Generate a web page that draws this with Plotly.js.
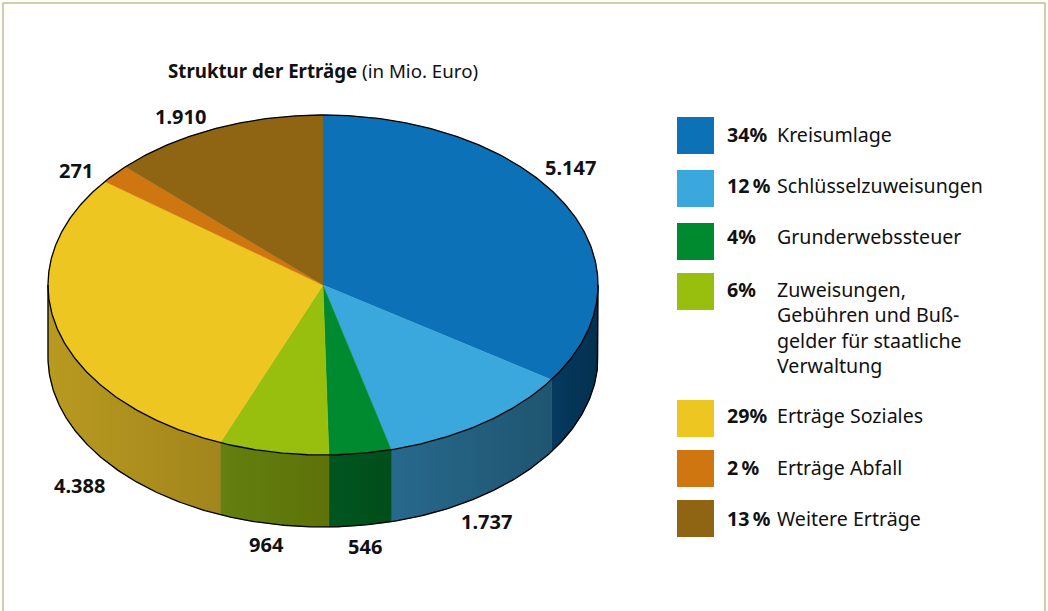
<!DOCTYPE html>
<html><head><meta charset="utf-8">
<script src="https://cdn.plot.ly/plotly-3.0.1.min.js"></script>
<style>html,body{margin:0;padding:0;background:#fff;overflow:hidden}</style>
</head><body><div id="chart" style="width:1048px;height:611px"></div>
<script>
// Data
const categories = ["Kreisumlage","Schlüsselzuweisungen","Grunderwebssteuer","Zuweisungen,<br>Gebühren und Buß-<br>gelder für staatliche<br>Verwaltung","Erträge Soziales","Erträge Abfall","Weitere Erträge"];
const values = [5147,1737,546,964,4388,271,1910];
const valueLabels = ["5.147","1.737","546","964","4.388","271","1.910"];
const percentLabels = ["34%","12\u2009%","4%","6%","29%","2\u2009%","13\u2009%"];

// Styling and layout, kept apart from the data
const topColors = ["#0c71b6","#3aa8dc","#008a30","#99bf0e","#eec622","#cf7611","#8f6513"];
const sideLeft  = ["#063a60","#27698c","#005520","#638010","#b89a20","#8f5208","#5f430b"];
const sideRight = ["#03304e","#1f5570","#004e1a","#5e7208","#a2851c","#8f5208","#5f430b"];
const labelPos = [[570,167],[486,521],[365,546],[266,544],[79,485],[76,170],[180,116]];
const swatchTop = [117,170,223,273,400,450,500];
const legendTextTop = [119,170,221,274,400,452,503];
const FONT = "Noto Sans, Open Sans, sans-serif";
const cx=323, cy=285, rx=275, ry=170, depth=72;

const total = values.reduce((a,b)=>a+b,0);
const px = th => cx + rx*Math.sin(th);
const py = (th,d=0) => cy - ry*Math.cos(th) + d;
const arc = (a,b,d=0) => {
  const n = Math.max(2,Math.ceil(Math.abs(b-a)/0.01));
  const xs=[],ys=[];
  for(let i=0;i<=n;i++){const t=a+(b-a)*i/n; xs.push(px(t)); ys.push(py(t,d));}
  return [xs,ys];
};
const traces=[], annotations=[], shapes=[];
const base={type:"scatter",mode:"lines",hoverinfo:"skip",showlegend:false};
let cum=0;
const sectors=values.map(v=>{const a=cum/total*2*Math.PI; cum+=v; return [a,cum/total*2*Math.PI];});

// side walls (front half only)
sectors.forEach(([a,b],i)=>{
  const s=Math.max(a,Math.PI/2), e=Math.min(b,3*Math.PI/2);
  if(e<=s) return;
  const [x1,y1]=arc(s,e,0), [x2,y2]=arc(e,s,depth);
  traces.push({...base,x:x1.concat(x2,[x1[0]]),y:y1.concat(y2,[y1[0]]),fill:"toself",
    line:{width:0.5,color:sideRight[i]},
    fillgradient:{type:"horizontal",colorscale:[[0,sideLeft[i]],[1,sideRight[i]]]}});
});
// top faces
sectors.forEach(([a,b],i)=>{
  const [x,y]=arc(a,b,0);
  traces.push({...base,x:[cx].concat(x,[cx]),y:[cy].concat(y,[cy]),fill:"toself",fillcolor:topColors[i],
    line:{width:0.4,color:topColors[i]}});
});
// outlines
const [ex,ey]=arc(0,2*Math.PI,0);
traces.push({...base,x:ex,y:ey,line:{width:1.3,color:"#000"}});
const [bx,by]=arc(Math.PI/2,3*Math.PI/2,depth);
traces.push({...base,x:[px(Math.PI/2)].concat(bx,[px(3*Math.PI/2)]),y:[cy].concat(by,[cy]),line:{width:1.3,color:"#000"}});

// value labels
valueLabels.forEach((t,i)=>annotations.push({xref:"x",yref:"y",x:labelPos[i][0],y:labelPos[i][1],text:"<b>"+t+"</b>",showarrow:false,
  xanchor:"center",yanchor:"middle",font:{family:FONT,size:20,color:"#111"}}));
// title
annotations.push({xref:"x",yref:"y",x:165.5,y:70,xanchor:"left",yanchor:"middle",showarrow:false,
  text:"<b>Struktur der Erträge</b> (in Mio. Euro)",font:{family:FONT,size:18.7,color:"#111"}});
// legend
categories.forEach((c,i)=>{
  shapes.push({type:"rect",xref:"x",yref:"y",x0:677,x1:714,y0:swatchTop[i],y1:swatchTop[i]+37,fillcolor:topColors[i],line:{width:0}});
  annotations.push({xref:"x",yref:"y",x:725,y:legendTextTop[i],xanchor:"left",yanchor:"top",showarrow:false,
    text:"<b>"+percentLabels[i]+"</b>",font:{family:FONT,size:19.6,color:"#111"}});
  annotations.push({xref:"x",yref:"y",x:775,y:legendTextTop[i],xanchor:"left",yanchor:"top",align:"left",showarrow:false,
    text:c,font:{family:FONT,size:19.6,color:"#111"}});
});
// frame
shapes.push({type:"path",xref:"x",yref:"y",path:"M3,611 L3,3 L1045,3 L1045,611",line:{color:"#c8bd8e",width:1.5}});

const hidden={visible:false,showgrid:false,zeroline:false,fixedrange:true};
Plotly.newPlot("chart",traces,{
  width:1048,height:611,margin:{l:0,r:0,t:0,b:0},
  paper_bgcolor:"#fff",plot_bgcolor:"#fff",showlegend:false,
  xaxis:{...hidden,range:[0,1048]},yaxis:{...hidden,range:[611,0]},
  annotations,shapes
},{displayModeBar:false,staticPlot:true});
</script></body></html>
